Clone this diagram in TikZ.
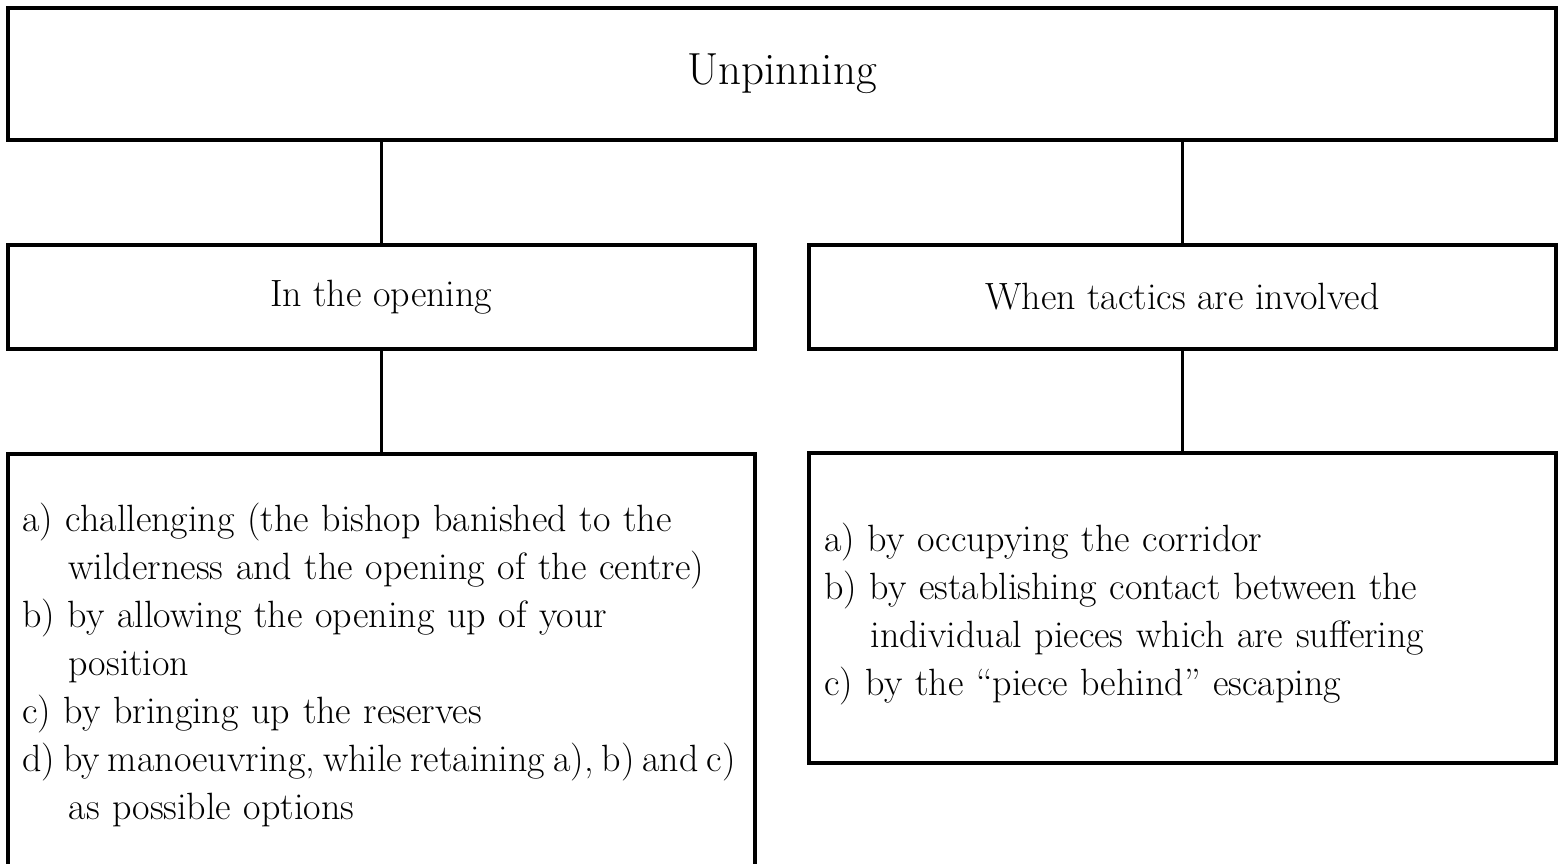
\documentclass[tikz,border=0pt]{standalone}
\usepackage{tikz}
\usetikzlibrary{positioning,calc}

\newcommand{\optnext}{\\\hspace*{1.22em}}

\begin{document}
\begin{tikzpicture}[x=1pt, y=-1pt,
  box/.style={draw, line width=4pt, inner sep=0pt},
  link/.style={line width=3pt},
  head/.style={font=\fontsize{38}{48}\selectfont},
  items/.style={font=\fontsize{38}{48}\selectfont, text width=760pt, align=left, inner sep=0pt, anchor=west}]

  \useasboundingbox (0,0) rectangle (1566,863);
  \clip (0,0) rectangle (1566,863);

  \node[box, font=\fontsize{45}{54}\selectfont, minimum width=1548.5pt, minimum height=132.5pt] (unpin) at (782,74) {Unpinning};

  \node[box, head, minimum width=747.5pt, minimum height=104pt] (opening) at (381.25,297) {In the opening};
  \node[box, head, minimum width=747pt, minimum height=104pt] (tactics) at (1182.5,297) {When tactics are involved};

  \node[box, minimum width=747.5pt, minimum height=419pt] (openlist) at (381.25,663.5) {};
  \node[box, minimum width=747pt, minimum height=310pt] (tacticlist) at (1182.5,608) {};

  \node[items] (opentext) at ([xshift=16.5pt,yshift=-1pt]openlist.west) {%
    a) challenging (the bishop banished to the\optnext wilderness and the opening of the centre)\\
    b) by allowing the opening up of your\optnext position\\
    c) by bringing up the reserves\\
    {\spaceskip=0.21em d) by manoeuvring, while retaining a), b) and c)}\optnext as possible options};
  \node[items] (tactictext) at ([xshift=17pt,yshift=-6pt]tacticlist.west) {%
    a) by occupying the corridor\\
    b) by establishing contact between the\optnext individual pieces which are suffering\\
    c) by the “piece behind” escaping};

  \draw[link] (opening.north) -- (opening.north |- unpin.south);
  \draw[link] (tactics.north) -- (tactics.north |- unpin.south);
  \draw[link] (opening.south) -- (openlist.north);
  \draw[link] (tactics.south) -- (tacticlist.north);
\end{tikzpicture}
\end{document}
